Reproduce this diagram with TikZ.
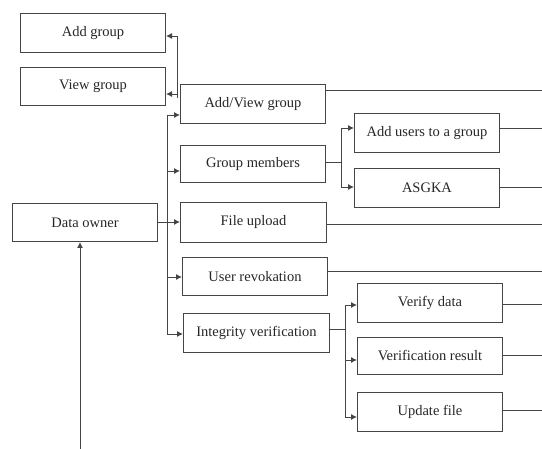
\documentclass[tikz,border=0pt]{standalone}
\usepackage{fontspec}
\setmainfont{Liberation Serif}
\usetikzlibrary{arrows.meta}
\definecolor{ln}{HTML}{454545}
\tikzset{
  box/.style={draw=ln, line width=1pt, anchor=north west, minimum width=145pt, minimum height=39pt, inner sep=0pt, font=\fontsize{14.5}{16}\selectfont, text=black!85},
  wire/.style={draw=ln, line width=0.9pt},
  arr/.style={wire, -{Latex[length=6pt,width=6pt]}}
}
\begin{document}
\begin{tikzpicture}[x=1pt,y=-1pt]
\useasboundingbox (0,0) rectangle (542,449);
% boxes
\node[box] (addg) at (20,13) {Add group};
\node[box, minimum height=38pt] (viewg) at (20,67) {View group};
\node[box] (addview) at (180,84) {Add/View group};
\node[box, minimum height=37pt] (gmem) at (180,145) {Group members};
\node[box, minimum width=146pt, minimum height=40pt] (fup) at (180,202) {File upload};
\node[box, minimum height=38pt] (urev) at (182,257) {User revokation};
\node[box, minimum width=146pt] (integ) at (183,313) {Integrity verification};
\node[box] (addu) at (354,113) {Add users to a group};
\node[box] (asgka) at (354,168) {ASGKA};
\node[box] (vdata) at (357,283) {Verify data};
\node[box, minimum height=37pt] (vres) at (357,337) {Verification result};
\node[box] (upd) at (357,392) {Update file};
\node[box, minimum height=38pt] (downer) at (12,203) {Data owner};
% bus from data owner
\coordinate (b1) at (167,115);
\coordinate (b2) at (167,171);
\coordinate (b3) at (167,222);
\coordinate (b4) at (167,277);
\coordinate (b5) at (167,334);
\draw[wire] (b1) -- (b5);
\draw[arr] (downer.east |- b3) -- (fup.west |- b3);
\draw[arr] (b1) -- (b1 -| addview.west);
\draw[arr] (b2) -- (b2 -| gmem.west);
\draw[arr] (b4) -- (b4 -| urev.west);
\draw[arr] (b5) -- (b5 -| integ.west);
% add/view group to add group / view group
\coordinate (u1) at (177,36);
\coordinate (u2) at (177,94);
\coordinate (u3) at (177,98);
\draw[wire] (u3) -- (u1);
\draw[arr] (u1) -- (u1 -| addg.east);
\draw[arr] (u2) -- (u2 -| viewg.east);
% group members split
\coordinate (g0) at (341,162);
\coordinate (g1) at (341,128);
\coordinate (g2) at (341,187);
\draw[wire] (g0 -| gmem.east) -- (g0);
\draw[wire] (g1) -- (g2);
\draw[arr] (g1) -- (g1 -| addu.west);
\draw[arr] (g2) -- (g2 -| asgka.west);
% integrity split
\coordinate (i0) at (345,329);
\coordinate (i1) at (345,305);
\coordinate (i2) at (345,360);
\coordinate (i3) at (345,417);
\draw[wire] (i0 -| integ.east) -- (i0);
\draw[wire] (i1) -- (i3);
\draw[arr] (i1) -- (i1 -| vdata.west);
\draw[arr] (i2) -- (i2 -| vres.west);
\draw[arr] (i3) -- (i3 -| upd.west);
% lines to the right edge
\coordinate (r1) at (542,90);
\coordinate (r2) at (542,128);
\coordinate (r3) at (542,187);
\coordinate (r4) at (542,224);
\coordinate (r5) at (542,271);
\coordinate (r6) at (542,304);
\coordinate (r7) at (542,355);
\coordinate (r8) at (542,410);
\draw[wire] (r1 -| addview.east) -- (r1);
\draw[wire] (r2 -| addu.east) -- (r2);
\draw[wire] (r3 -| asgka.east) -- (r3);
\draw[wire] (r4 -| fup.east) -- (r4);
\draw[wire] (r5 -| urev.east) -- (r5);
\draw[wire] (r6 -| vdata.east) -- (r6);
\draw[wire] (r7 -| vres.east) -- (r7);
\draw[wire] (r8 -| upd.east) -- (r8);
% incoming arrow to data owner
\coordinate (d0) at (80,449);
\draw[arr] (d0) -- (d0 |- downer.south);
\end{tikzpicture}
\end{document}
